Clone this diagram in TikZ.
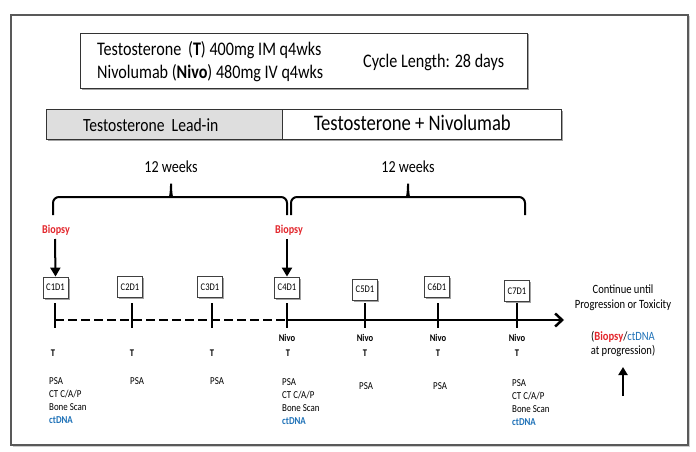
\documentclass[tikz,border=0pt]{standalone}
\usepackage{fontspec}
\setmainfont{Carlito}[FakeStretch=0.84]
\usetikzlibrary{arrows.meta,shadows}
\definecolor{bred}{HTML}{E3262C}
\definecolor{dblue}{HTML}{1F72B8}
\newcommand{\fs}[2]{\fontsize{#1}{#2}\selectfont}
\begin{document}
\begin{tikzpicture}[x=1pt,y=-1pt,
  txt/.style={inner sep=0pt},
  shad/.style={drop shadow={shadow xshift=1.5pt,shadow yshift=-1.5pt,fill=black!45,opacity=0.8}},
  panel/.style={draw=black!80,line width=0.9pt,fill=white,shad,inner sep=0pt},
  cyc/.style={draw=black!75,line width=0.8pt,fill=white,minimum width=25pt,minimum height=21pt,inner sep=0pt,font=\fs{10.2}{12},shad},
  brace/.style={line width=2pt,rounded corners=6pt},
  tick/.style={line width=2pt},
  tl/.style={line width=2.5pt},
  bio/.style={txt,font=\bfseries\fs{12}{14},text=bred},
  bioarrow/.style={line width=2pt,-{Triangle[length=9pt,width=10pt]}},
  nivo/.style={txt,font=\bfseries\fs{10.2}{12}},
  tee/.style={txt,font=\bfseries\fs{10.2}{12}},
  lst/.style={txt,anchor=north west,align=left,font=\fs{10.6}{13.2}},
  wk/.style={txt,font=\fs{16.8}{18}}
]
\useasboundingbox (0,0) rectangle (696,452);
\draw[black!65,line width=1.4pt,fill=white,drop shadow={shadow xshift=1.5pt,shadow yshift=-1.5pt,fill=black!40}] (11,15) rectangle (688,445);

% top info box
\node[panel,minimum width=447pt,minimum height=55pt] (info) at (303.5,60.5) {};
\node[txt,anchor=west,align=left,font=\fs{19.2}{23}] (drugs) at (97,61.5) {Testosterone\ \,(\textbf{T}) 400mg IM q4wks\\Nivolumab (\textbf{Nivo}) 480mg IV q4wks};
\node[txt,anchor=west,font=\fs{19.2}{21}] (cycle) at (363,62) {Cycle Length: 28 days};

% phase bar
\node[panel,fill=black!13,minimum width=236pt,minimum height=30pt] (leadbox) at (164,124) {};
\node[panel,minimum width=279pt,minimum height=30pt] (combobox) at (421.5,124) {};
\node[txt,anchor=west,font=\fs{18.6}{20}] (lead) at (83,125) {Testosterone\ \ Lead-in};
\node[txt,anchor=east,font=\fs{22.2}{24}] (combo) at (511,123) {Testosterone + Nivolumab};

% braces
\draw[brace] (53,215) -- (53,197) -- (164,197) .. controls (170,197) and (171,192) .. (171,180) .. controls (171,192) and (172,197) .. (178,197) -- (287,197) -- (287,215);
\draw[brace] (291,215) -- (291,197) -- (401,197) .. controls (407,197) and (408,192) .. (408,180) .. controls (408,192) and (409,197) .. (415,197) -- (525,197) -- (525,215);
\node[wk] (w1) at (171,167) {12 weeks};
\node[wk] (w2) at (408,167) {12 weeks};

% biopsy
\node[bio] (b1) at (56,230) {Biopsy};
\node[bio] (b2) at (289,230) {Biopsy};

% cycle boxes
\node[cyc] (c1) at (55.5,287.5) {C1D1};
\node[cyc] (c2) at (130,287) {C2D1};
\node[cyc] (c3) at (210,287) {C3D1};
\node[cyc] (c4) at (287,287.5) {C4D1};
\node[cyc] (c5) at (365,289.5) {C5D1};
\node[cyc] (c6) at (437,287) {C6D1};
\node[cyc] (c7) at (517,291) {C7D1};

\coordinate (a1) at (55,239);
\coordinate (a2) at (287,239);
\draw[bioarrow] (a1) -- (c1.north);
\draw[bioarrow] (a2) -- (c4.north);

% timeline
\coordinate (t1) at (55,320);
\coordinate (t2) at (132,320);
\coordinate (t3) at (212,320);
\coordinate (t4) at (287,320);
\coordinate (t5) at (365,320);
\coordinate (t6) at (438,320);
\coordinate (t7) at (517,320);
\coordinate (tend) at (564,320);
\draw[tl,dash pattern=on 9pt off 4pt] (t1) -- (t4);
\draw[tl,-{Straight Barb[length=7pt,width=13pt,line width=2.5pt]}] (t4) -- (tend);
\foreach \i in {1,...,7} {\draw[tick] (t\i) ++(0,-17) -- ++(0,25);}

% Nivo / T labels
\foreach \i/\x in {4/287,5/365,6/438,7/517} {\node[nivo] (n\i) at (\x,338) {Nivo};}
\foreach \i/\x in {1/53,2/132,3/212,4/288,5/365,6/438,7/517} {\node[tee] (T\i) at (\x,353) {T};}

% assessments
\node[lst] (l1) at (49,377) {PSA\\CT C/A/P\\Bone Scan\\\textcolor{dblue}{\bfseries ctDNA}};
\node[lst] (l2) at (130,377) {PSA};
\node[lst] (l3) at (210,377) {PSA};
\node[lst] (l4) at (282,378) {PSA\\CT C/A/P\\Bone Scan\\\textcolor{dblue}{\bfseries ctDNA}};
\node[lst] (l5) at (359,382) {PSA};
\node[lst] (l6) at (433,382) {PSA};
\node[lst] (l7) at (512,379) {PSA\\CT C/A/P\\Bone Scan\\\textcolor{dblue}{\bfseries ctDNA}};

% continue
\node[txt,align=center,font=\fs{12.6}{15}] (cont) at (623,298) {Continue until\\Progression or Toxicity};
\node[txt,align=center,font=\fs{12.6}{14.5}] (prog) at (623,344) {(\textcolor{bred}{\bfseries Biopsy}/\textcolor{dblue}{ctDNA}\\at progression)};
\coordinate (pa) at (623,396);
\coordinate (pb) at (623,367);
\draw[line width=2pt,-{Triangle[length=8pt,width=9pt]}] (pa) -- (pb);
\end{tikzpicture}
\end{document}
